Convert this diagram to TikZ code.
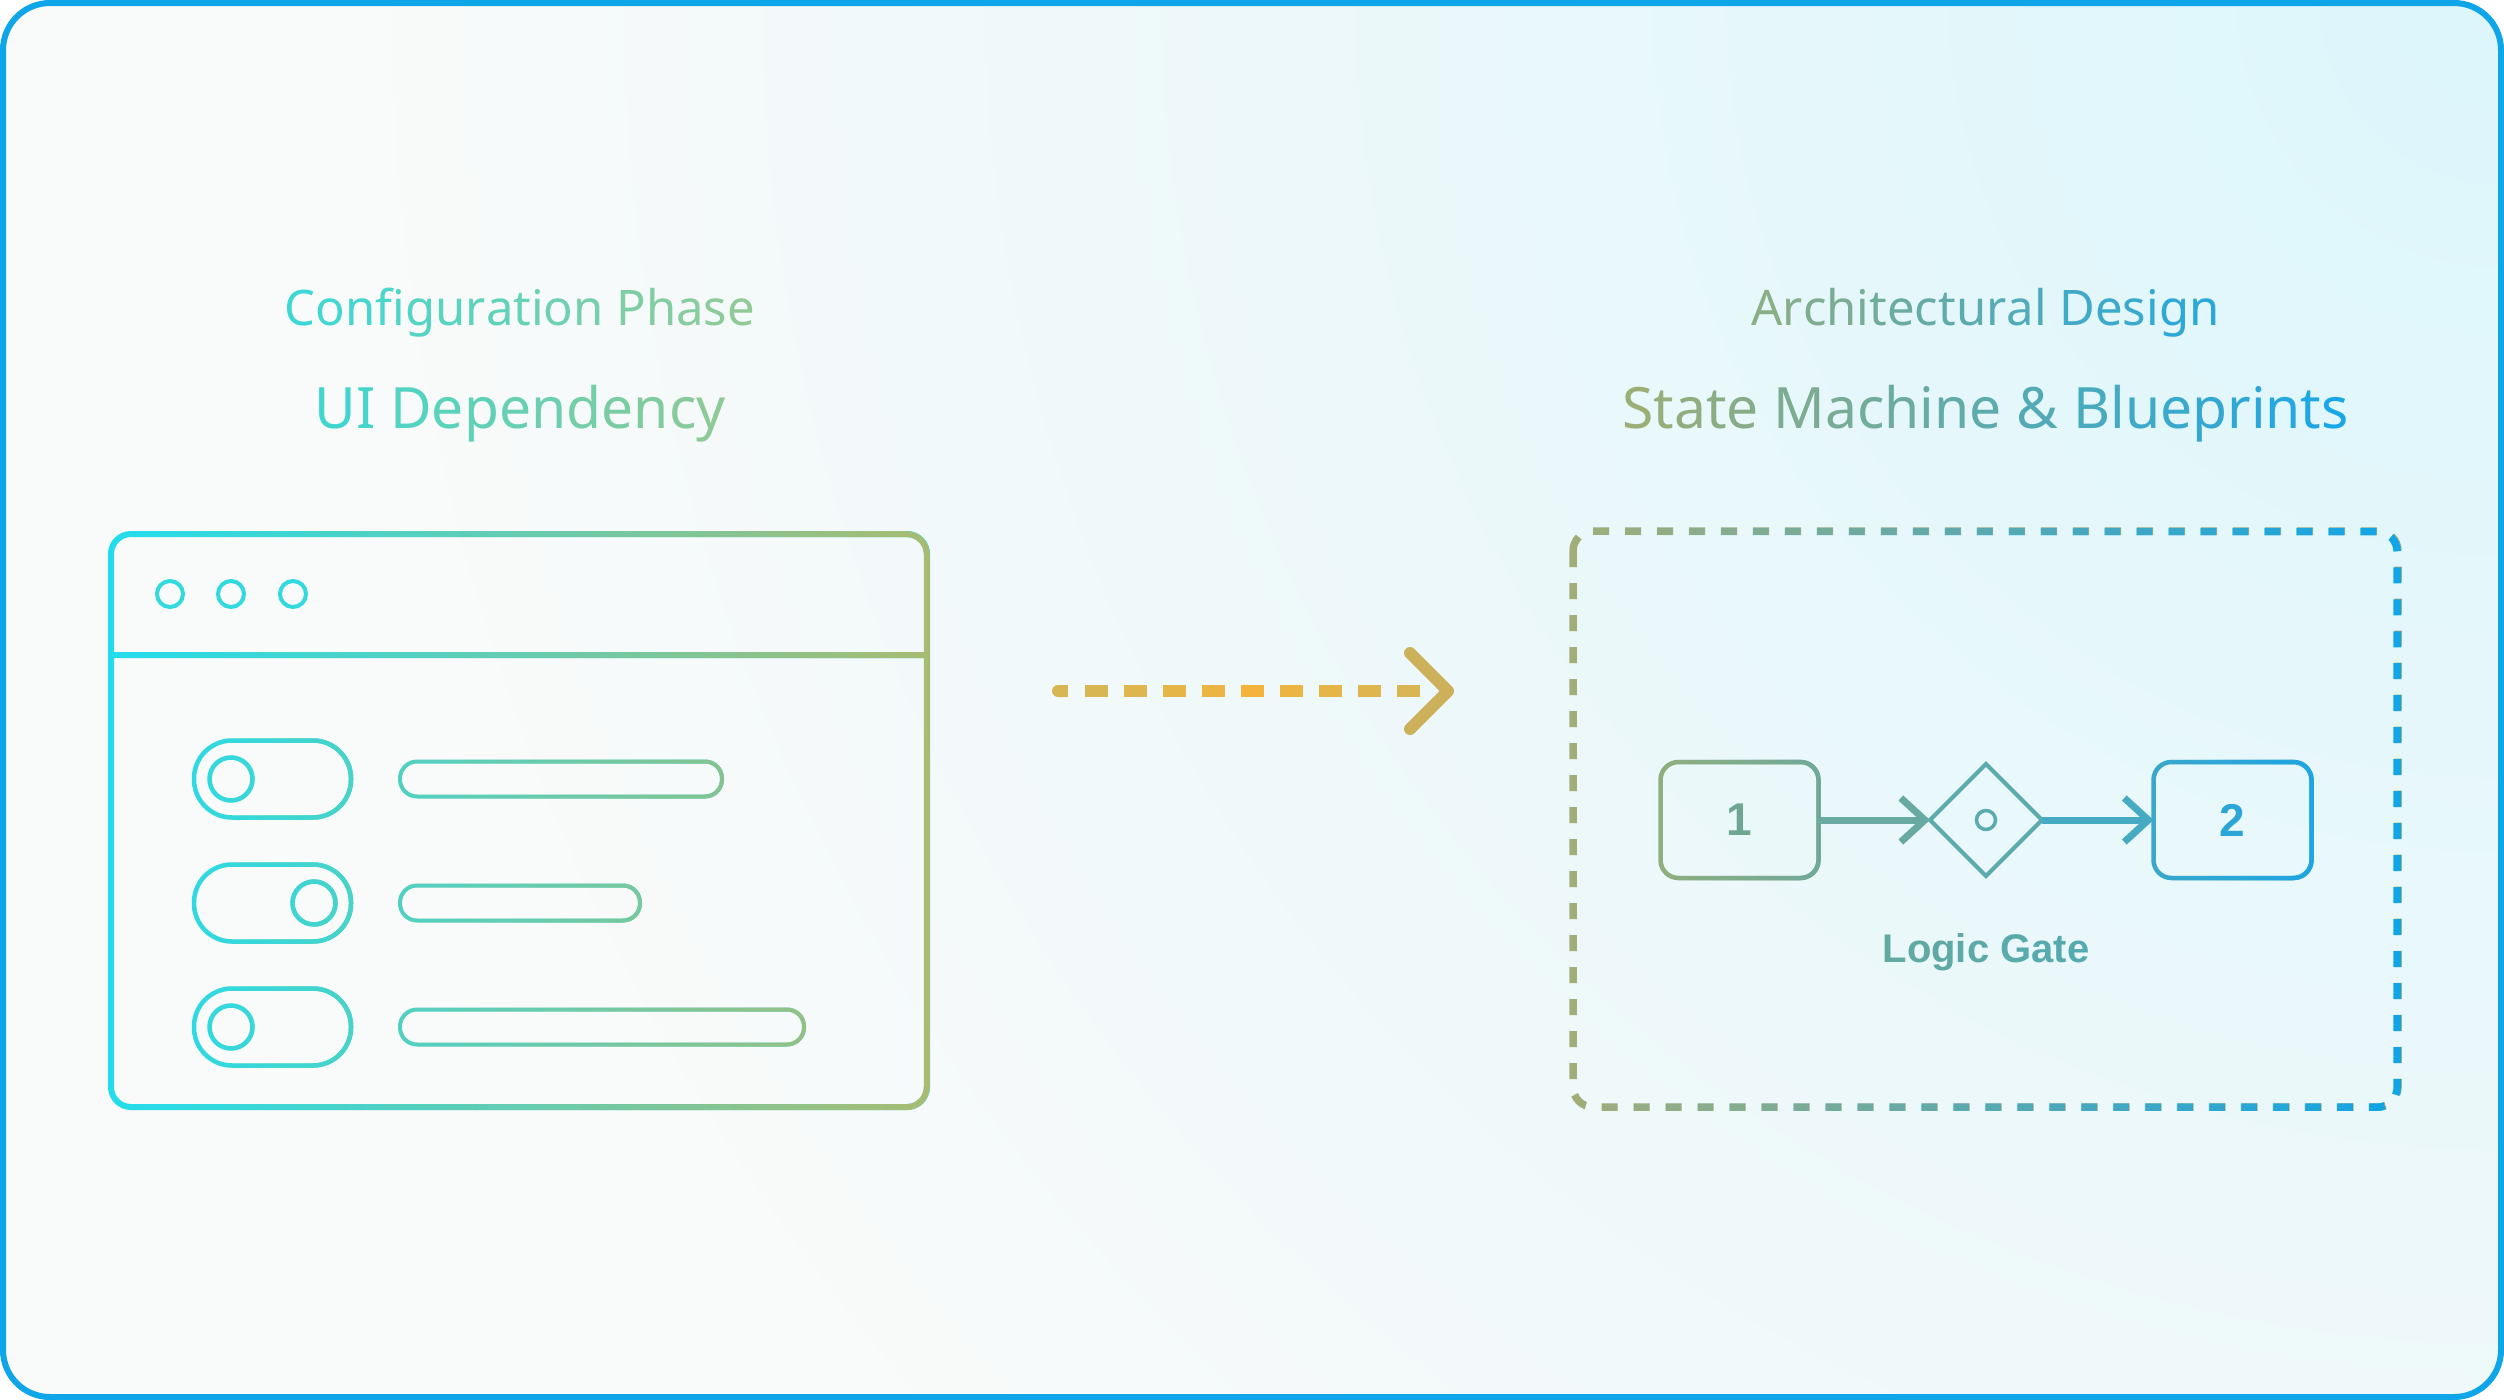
\documentclass[tikz,border=0pt]{standalone}
\usepackage{fontspec}
\setmainfont{Noto Sans}
\newfontfamily\lsans{Liberation Sans}
\usetikzlibrary{arrows.meta,shapes.geometric,fadings,calc}

\definecolor{frame}{HTML}{0EA5E9}
\definecolor{bgbase}{HTML}{F9FAFA}
\definecolor{bgcyan}{HTML}{DCF6FB}
\definecolor{winA}{HTML}{22DDEE}
\definecolor{winB}{HTML}{A8BC72}
\definecolor{tlA}{HTML}{3DD8D6}
\definecolor{tlB}{HTML}{90CB96}
\definecolor{ulA}{HTML}{40D6CF}
\definecolor{ulB}{HTML}{8DCA95}
\definecolor{adA}{HTML}{8AAE86}
\definecolor{adB}{HTML}{29A8DC}
\definecolor{smA}{HTML}{9BAE76}
\definecolor{smB}{HTML}{1AA7E8}
\definecolor{dbA}{HTML}{A3AE78}
\definecolor{dbB}{HTML}{0EA5E9}
\definecolor{arrMid}{HTML}{F3B33C}
\definecolor{arrEnd}{HTML}{D2B75A}
\definecolor{chev}{HTML}{CDB05A}
\definecolor{bxoA}{HTML}{90AF7E}
\definecolor{bxoB}{HTML}{6FA99A}
\definecolor{numo}{HTML}{6EA691}
\definecolor{arone}{HTML}{68AAA1}
\definecolor{gatec}{HTML}{5AAAAE}
\definecolor{artwo}{HTML}{47AAC3}
\definecolor{bxtA}{HTML}{3BA8CB}
\definecolor{bxtB}{HTML}{1EA5E3}
\definecolor{numt}{HTML}{2CA6D7}
\definecolor{lgA}{HTML}{62A9A2}
\definecolor{lgB}{HTML}{55AAB0}

\ExplSyntaxOn
\int_new:N \l__gt_i_int
\int_new:N \l__gt_n_int
\tl_new:N \l__gt_col_tl
\str_new:N \l__gt_s_str
\NewDocumentCommand \gradtext { m m m }
  {
    \str_set:Nn \l__gt_s_str {#3}
    \int_set:Nn \l__gt_n_int { \str_count:N \l__gt_s_str - 1 }
    \int_zero:N \l__gt_i_int
    \str_map_inline:Nn \l__gt_s_str
      {
        \tl_set:Nx \l__gt_col_tl { #2 ! \int_eval:n { 100 * \l__gt_i_int / \l__gt_n_int } ! #1 }
        \exp_args:NV \color \l__gt_col_tl
        \scan_stop:
        ##1
        \int_incr:N \l__gt_i_int
      }
  }
\ExplSyntaxOff

% gradient stroke: options, percent of winB at left, at right, path
\newcommand\gdraw[4]{%
  \draw[#1, color=winB!#2!winA] #4;
  \draw[#1, color=winB!#3!winA, path fading=west] #4;}

\tikzset{
  frameline/.style={draw=frame, line width=6pt, rounded corners=47pt},
  ttlsmall/.style={anchor=base, inner sep=0pt, font=\fontsize{49pt}{58pt}\selectfont},
  ttlbig/.style={anchor=base, inner sep=0pt, font=\fontsize{57pt}{66pt}\selectfont},
  winline/.style={line width=6pt, rounded corners=20pt},
  tgl/.style={line width=4.5pt, rounded corners=38pt},
  barline/.style={line width=4pt, rounded corners=17pt},
  dotline/.style={line width=4pt, draw=winB!12!winA},
  ghost/.style={inner sep=0pt, outer sep=0pt},
  dbx/.style={line width=7.5pt, dash pattern=on 16pt off 16pt, rounded corners=20pt},
  arrdash/.style={line width=12pt, line cap=butt},
  arrchev/.style={line width=12pt, line cap=round, line join=round, draw=chev},
  sbox/.style={rectangle, rounded corners=18pt, minimum width=158pt, minimum height=116pt,
    line width=4.5pt, inner sep=0pt, outer sep=0pt,
    font=\lsans\bfseries\fontsize{46pt}{46pt}\selectfont},
  flow/.style={line width=7pt, -{Straight Barb[length=24pt, width=44pt, line width=7pt]}},
}

\begin{document}
\begin{tikzpicture}[x=1pt,y=-1pt]
\useasboundingbox (0,0) rectangle (2504,1400);
% background
\begin{scope}
  \clip[rounded corners=47pt] (3,3) rectangle (2501,1397);
  \fill[bgbase] (0,0) rectangle (2504,1400);
  \shade[inner color=bgcyan, outer color=bgbase] (2504,0) circle[radius=2150];
\end{scope}
\draw[frameline] (3,3) rectangle (2501,1397);

% left titles
\node[ttlsmall] (cfg) at (520,325) {\gradtext{tlA}{tlB}{Configuration Phase}};
\node[ttlbig] (uid) at (520,428) {\gradtext{ulA}{ulB}{UI Dependency}};

% left window
\node[ghost, minimum width=816pt, minimum height=573pt] (win) at (519,820.5) {};
\gdraw{winline}{0}{100}{(111,534) rectangle (927,1107) (111,655) -- (927,655)}
\foreach \dx in {170,231,293}{\draw[dotline] (\dx,594) circle[radius=13];}
% toggles
\gdraw{tgl}{10}{30}{(194,740.5) rectangle (351,817.5) (231,779) circle[radius=21.5]}
\gdraw{tgl}{10}{30}{(194,864.5) rectangle (351,941.5) (314,903) circle[radius=21.5]}
\gdraw{tgl}{10}{30}{(194,988.5) rectangle (351,1065.5) (231,1027) circle[radius=21.5]}
% bars
\gdraw{barline}{35}{75}{(400,761.5) rectangle (722,796.5)}
\gdraw{barline}{35}{65}{(400,885.5) rectangle (640,920.5)}
\gdraw{barline}{35}{85}{(400,1009.5) rectangle (804,1044.5)}

% dashed arrow
\coordinate (arrS) at (1052,691);
\coordinate (arrE) at (1448,691);
\draw[arrdash, color=arrMid!20!arrEnd, {Round Cap[]}-] (arrS) -- ++(16,0);
\foreach \i in {0,...,8}{
  \pgfmathtruncatemacro\p{100-20*abs(\i-4)}
  \draw[arrdash, color=arrMid!\p!arrEnd] ($(arrS)+(33+39*\i,0)$) -- ++(23,0);
}
\draw[arrchev] ($(arrE)+(-38,-38)$) -- (arrE) -- ($(arrE)+(-38,38)$);

% right titles
\node[ttlsmall] (arch) at (1985.5,325) {\gradtext{adA}{adB}{Architectural Design}};
\node[ttlbig] (smb) at (1985.5,428) {\gradtext{smA}{smB}{State Machine & Blueprints}};

% dashed box
\node[ghost, minimum width=825pt, minimum height=576pt] (dbox) at (1985.5,819) {};
\draw[dbx, color=dbA] (dbox.north west) rectangle (dbox.south east);
\draw[dbx, color=dbB, path fading=west] (dbox.north west) rectangle (dbox.south east);

% state machine
\node[sbox, draw=bxoA, text=numo] (b1) at (1739.5,820) {1};
\draw[line width=4.5pt, rounded corners=18pt, color=bxoB, path fading=west] (b1.north west) rectangle (b1.south east);
\node[sbox, draw=bxtA, text=numt] (b2) at (2232.5,820) {2};
\draw[line width=4.5pt, rounded corners=18pt, color=bxtB, path fading=west] (b2.north west) rectangle (b2.south east);
\node[diamond, draw=gatec, line width=4pt, minimum width=112pt, minimum height=112pt, inner sep=0pt, outer sep=0pt] (gate) at (1986,820) {};
\node[circle, draw=gatec, line width=3.5pt, minimum size=19pt, inner sep=0pt] (gdot) at (gate.center) {};
\draw[flow, color=arone] (b1.east) -- (gate.west);
\draw[flow, color=artwo] (gate.east) -- (b2.west);
\node[anchor=base, inner sep=0pt, font=\lsans\bfseries\fontsize{40pt}{40pt}\selectfont] (lg) at (1986,962) {\gradtext{lgA}{lgB}{Logic Gate}};
\end{tikzpicture}
\end{document}
